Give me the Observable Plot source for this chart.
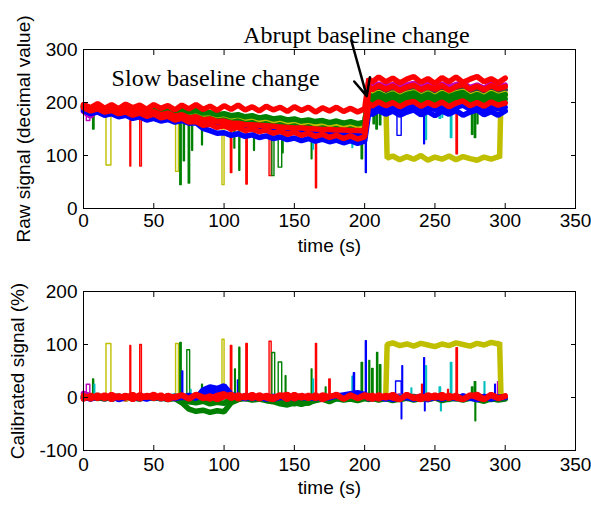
<!DOCTYPE html>
<html><head><meta charset="utf-8">
<script src="https://cdn.jsdelivr.net/npm/d3@7"></script>
<script src="https://cdn.jsdelivr.net/npm/@observablehq/plot@0.6"></script>
<style>
body{margin:0;background:#fff;}
#chart{width:591px;}
#chart svg{display:block;overflow:visible;}
</style></head><body><div id="chart"></div>
<script>
// ---------- time grids ----------
const timeA = [0,5,10,15,20,25,30,35,40,45,50,55,60,65,70,75,80,85,90,95,100,105,110,115,120,125,130,135,140,145,150,155,160,165,170,175,180,185,190,195,200];
const timeB = [203,205,210,215,220,225,230,235,240,245,250,255,260,265,270,275,280,285,290,295,300];
const yellowTimeB = [203,205,210,215,216,220,225,230,235,240,245,250,255,260,265,270,275,280,285,290,295,296,297,300];

// ---------- MATLAB colour order ----------
const colorCodes = ["b","g","r","c","m","y","k"];
const colorValues = ["#0000ff","#008000","#ff0000","#00bfbf","#bf00bf","#bfbf00","#404040"];

// ---------- raw signal (top) ----------
const rawR1A = [196,190,198,189,196,188,197,190,195,187,196,189,194,186,195,188,196,187,193,185,194,187,195,186,192,184,193,186,191,183,192,185,191,182,190,184,191,183,189,182,188];
const rawR1B = [245,238,248,239,246,237,244,249,238,245,236,247,239,248,238,244,249,239,245,237,246];
const rawR2A = [192,187,191,185,189,183,187,181,185,179,183,177,180,174,177,171,173,167,169,164,165,161,161,158,158,157,156,155,154,153,152,152,151,150,149,149,148,148,147,147,146];
const rawR2B = [230,224,232,225,231,223,229,233,224,230,225,232,223,230,234,225,231,224,232,226,230];
const rawR3A = [190,184,188,182,185,179,182,176,180,174,178,171,174,167,170,163,164,157,159,153,156,150,153,147,150,145,148,142,146,140,144,138,142,136,140,134,138,132,137,131,135];
const rawR3B = [199,193,201,194,200,192,199,202,193,200,194,201,192,199,203,194,200,193,201,195,199];
const rawB1A = [185,179,182,176,179,173,176,170,173,167,170,165,168,163,166,161,162,151,147,142,143,138,141,136,139,134,137,132,135,130,133,128,132,127,131,126,129,124,128,123,127];
const rawB1B = [183,177,185,178,184,176,182,186,177,183,175,184,178,185,176,182,186,177,183,176,184];
const rawB2A = [189,184,187,182,185,180,183,178,181,176,179,174,177,172,175,170,171,165,165,159,160,156,158,153,156,151,154,149,152,147,150,145,148,143,147,142,145,140,144,139,142];
const rawB2B = [191,186,193,187,192,185,191,194,186,192,187,193,185,191,195,187,192,186,193,188,191];
const rawG1A = [195,190,194,189,193,188,192,187,191,186,190,185,189,184,187,182,185,180,181,177,179,175,177,173,175,171,173,169,171,167,169,165,167,164,166,162,165,161,164,160,163];
const rawG1B = [215,210,217,211,216,209,215,218,210,216,209,217,211,216,219,210,215,209,217,211,215];
const rawG2A = [192,187,191,185,189,183,187,181,185,179,183,177,180,174,177,171,173,168,169,165,167,162,165,160,162,157,160,155,158,153,156,151,154,149,152,148,151,146,150,145,148];
const rawG2B = [207,202,209,203,208,201,207,210,202,208,201,209,203,208,211,202,207,201,209,203,207];
const rawY1A = [193,188,192,187,191,186,189,184,187,182,185,180,183,178,181,176,178,173,175,171,173,169,171,167,169,165,167,163,165,161,163,159,161,157,159,156,158,154,157,153,156];
const rawY1B = [217,211,217,212,95,99,92,98,93,100,91,97,93,99,92,98,94,91,97,93,98,95,212,214];
const rawY2A = [191,186,190,184,188,182,186,180,184,178,182,176,180,174,177,171,174,169,171,166,169,164,167,162,165,160,163,158,161,156,159,154,158,153,157,152,156,151,155,150,154];
const rawY2B = [217,213,219,212,218,211,217,220,212,218,211,219,213,218,221,212,217,211,219,213,217];
const rawKA = [193,188,192,187,190,185,189,184,187,182,185,180,183,178,181,176,178,174,176,172,174,170,172,168,170,166,168,164,166,162,164,161,163,159,162,158,161,157,160,156,159];
const rawKB = [224,219,226,220,225,218,224,227,219,225,218,226,220,225,228,219,224,218,226,220,224];
const rawCA = [188,183,187,181,185,179,183,177,181,175,179,173,176,170,173,167,169,164,165,160,162,157,159,155,157,152,155,150,153,148,151,146,149,144,147,142,145,140,144,139,142];
const rawCB = [201,196,203,197,202,195,201,204,196,202,195,203,197,202,205,196,201,195,203,197,201];
const rawMA = [183,174,187,182,185,180,184,178,181,176,179,174,177,172,175,170,172,167,169,164,167,162,165,160,163,158,161,156,159,154,157,152,155,151,154,149,152,148,151,147,150];
const rawMB = [233,228,235,229,234,227,233,236,228,234,227,235,229,234,237,228,233,227,235,229,233];

// spikes: [colour, start s, end s, base, extreme]
const rawSpikes = [
  ["m",2,4.5,185,166],["g",6.5,7.5,190,150],["y",16,19.5,188,82],["r",33,33.6,186,80],["r",40,41.2,184,80],
  ["y",65.5,67.5,175,70],["g",68.5,69.5,176,45],["g",71,71.8,175,90],["g",74.5,75.5,174,48],["g",77,77.6,172,110],
  ["g",84,84.6,170,120],["y",98.5,100,168,45],["r",104.5,105.5,165,68],["g",107,107.6,165,114],["g",110.5,111.2,163,72],
  ["r",115.5,116.5,160,46],["g",121,121.6,160,110],["r",132,133.5,152,62],["g",134,135.5,150,62],["g",138.5,141,150,78],
  ["g",141.5,142,150,105],["g",162,162.5,140,94],["c",163,163.5,140,112],["r",165,165.8,150,39],["c",191,191.5,140,115],
  ["g",197.5,198.5,148,94],["b",200.5,201.2,130,68],
  ["g",206,207,210,160],["g",208,209,208,150],["g",210.5,211.5,208,158],["r",215,216,200,125],["b",223,226,188,138],
  ["b",242,242.6,185,122],["c",243.5,244,195,130],["c",253,254,198,170],["c",255,255.5,198,172],["c",261,262,195,134],
  ["r",265,266,200,103],["g",276,277,205,140],["g",278,279,205,134],["g",280,280.6,205,160]
];

// ---------- calibrated signal (bottom) ----------
const calR1A = [4,-3,5,-2,6,-1,4,-4,5,0,6,-3,4,-1,5,-2,6,1,-3,4,7,-2,5,-1,6,-3,4,0,5,-4,6,-1,4,-2,5,1,6,-3,4,-1,5];
const calR1B = [3,-4,5,-1,6,-3,4,0,-4,5,-1,6,-2,4,-3,5,0,-4,6,-1,3];
const calR2A = [-3,4,-2,5,-4,3,-1,6,-3,4,-2,5,-4,2,4,-3,5,-2,3,-4,2,6,-3,4,-2,5,-1,-4,3,6,-3,4,-2,5,-4,2,4,-3,5,-2,3];
const calR2B = [-2,5,-3,4,-1,-4,6,-2,3,-3,5,-2,4,-1,-4,3,6,-3,4,-2,2];
const calB1A = [1,-3,2,-1,3,-4,0,2,-2,3,-1,1,-3,2,0,4,-2,14,20,17,22,6,2,-2,3,0,-3,2,1,-2,3,0,-1,2,-3,1,3,5,7,9,6];
const calB1B = [2,-2,1,-3,2,-1,0,-3,2,-4,1,-2,2,0,-3,1,-1,2,-3,1,0];
const calB2A = [-2,2,-1,3,-3,1,2,-2,0,-3,2,-1,3,-2,1,-1,3,8,12,9,13,2,-1,3,-2,1,2,-3,0,2,-2,3,0,-2,2,-1,4,2,5,3,4];
const calB2B = [-3,1,-2,2,-4,0,1,-3,2,-1,0,-3,1,-2,3,-1,-4,1,0,-2,1];
const calG1A = [-1,2,-2,1,-3,0,2,-1,-3,1,-2,0,-4,-2,-10,-22,-26,-24,-28,-25,-27,-10,-4,-2,-5,-3,-6,-8,-12,-14,-10,-13,-9,-6,-3,-8,-2,-5,-3,-6,-2];
const calG1B = [-4,-1,-5,-2,-6,-3,-1,-5,-2,-4,-1,-6,-3,-2,-5,-1,-4,-7,-2,-5,-3];
const calG2A = [2,-1,3,-2,1,-1,3,0,-2,2,-1,3,-2,1,-5,-8,-10,-7,-12,-9,-11,-3,1,-2,0,-3,-1,-4,-7,-9,-12,-8,-11,-4,-2,-1,2,-3,0,-2,1];
const calG2B = [1,-3,0,-2,2,-4,-1,1,-3,0,2,-2,-1,1,-3,0,-2,1,-4,0,1];
const calCA = [3,-2,4,-1,2,-3,1,3,-2,0,2,-3,1,3,-1,2,0,-3,2,-1,3,0,-2,2,4,-1,1,-3,2,0,3,-2,1,-1,2,0,-3,2,4,1,-2];
const calCB = [2,-1,3,0,-3,1,2,-2,0,3,-1,1,-4,2,0,-2,3,-1,1,-3,2];
const calMA = [8,3,-1,2,-2,1,-3,2,0,-1,2,-2,1,-1,3,0,-2,1,-1,2,0,-2,1,-1,2,0,-2,1,-1,2,0,-3,1,-1,2,0,-2,1,-1,2,0];
const calMB = [1,-2,2,-1,0,3,-2,1,-1,2,0,-3,1,-1,2,0,-2,1,3,-1,0];
const calYA = [1,-2,3,0,-1,2,-3,1,2,-1,0,3,-2,1,-1,2,0,-3,1,-2,2,0,-1,3,-2,1,0,-1,2,-3,1,0,2,-1,-2,1,0,3,-1,2,0];
const calYB = [2,-1,3,0,100,103,98,101,97,102,99,96,101,98,103,100,97,102,99,104,101,104,3,1];
const calKA = [-1,2,0,-3,1,3,-2,0,2,-1,3,-2,0,1,-3,2,-1,0,3,-2,1,-1,2,0,-3,1,2,-2,0,3,-1,1,-2,2,0,-3,1,2,-1,0,2];
const calKB = [0,-2,2,-1,1,-3,0,2,-2,1,3,-1,0,-2,2,1,-3,0,2,-1,0];

const calSpikes = [
  ["m",2,4.5,0,25],["g",6.5,7.2,0,35],["c",7.5,8,0,25],["y",16,19.5,0,102],["r",33,33.6,0,98],["r",40,41.2,0,100],
  ["y",65.5,67.5,0,102],["g",68.5,69.5,0,104],["b",70,70.6,0,50],["g",73.5,75.5,0,90],["c",76,76.5,0,15],["g",84,84.6,0,25],
  ["y",98.5,100,0,110],["r",104.5,105.5,0,98],["g",107.5,108,0,54],["b",109.5,110.5,0,33],["g",110.5,111.2,0,95],
  ["r",115.5,116.5,0,102],["r",132,133.5,0,106],["g",134,136,0,85],["g",138.5,141,0,67],["g",143.5,144,0,41],
  ["g",162,162.5,0,54],["c",163,163.5,0,35],["r",165,165.8,0,102],["g",172,172.5,0,20],["r",174.5,175.5,0,35],
  ["c",191,191.5,0,40],["b",192,192.8,0,47],["g",197.5,198.5,0,66],["b",200.5,201.2,0,107],["g",203,203.6,0,70],
  ["g",205,206,0,55],["g",208.5,209.3,0,85],["g",210.5,211.5,0,62],["r",215,216,0,91],["b",222,226,0,31],
  ["b",226.5,227,0,60],["b",226,226.4,0,-40],["c",233,233.5,0,18],["r",240.5,241,0,25],["b",242,242.6,0,75],
  ["b",242.6,243,0,-25],["c",243.5,244,0,60],["c",253,254,0,20],["c",254,254.5,0,-25],["r",259,259.6,0,15],
  ["c",261,262,0,66],["r",265,266,0,94],["g",276,277,0,20],["g",278,279,0,30],["g",278.5,279,0,-44],
  ["c",285,285.5,0,30],["b",292.5,293,0,25],["m",294.5,295.5,0,30]
];

// ---------- ticks / labels / annotations ----------
const xTicks = [0,50,100,150,200,250,300,350];
const rawTicks = [0,100,200,300];
const calTicks = [-100,0,100,200];
const xLabel = "time (s)";
const rawLabel = "Raw signal (decimal value)";
const calLabel = "Calibrated signal (%)";
const noteText = ["Abrupt baseline change","Slow baseline change"];
const noteTime = [113.6,20];
const noteValue = [327,246];
const arrowFrom = [190.5,317];
const arrowTo = [201.5,212];

// ---------- build tables ----------
const colorOf = code => colorValues[colorCodes.indexOf(code)];
function seriesRows(list) {
  const rows = [];
  list.forEach(([code, tb, a, b], i) => {
    const ts = timeA.concat(tb), vs = a.concat(b);
    ts.forEach((t, j) => rows.push({t, v: vs[j], id: i, c: colorOf(code)}));
  });
  return rows;
}
function spikeRows(list) {
  const rows = [];
  list.forEach(([code, t0, t1, base, ext], i) => {
    const c = colorOf(code);
    rows.push({t: t0, v: base, id: i, c}, {t: t0, v: ext, id: i, c}, {t: t1, v: ext, id: i, c}, {t: t1, v: base, id: i, c});
  });
  return rows;
}
const rawSeries = seriesRows([
  ["k",timeB,rawKA,rawKB],["m",timeB,rawMA,rawMB],["c",timeB,rawCA,rawCB],["y",timeB,rawY2A,rawY2B],
  ["y",yellowTimeB,rawY1A,rawY1B],["g",timeB,rawG2A,rawG2B],["g",timeB,rawG1A,rawG1B],
  ["b",timeB,rawB2A,rawB2B],["b",timeB,rawB1A,rawB1B],["r",timeB,rawR3A,rawR3B],["r",timeB,rawR2A,rawR2B],["r",timeB,rawR1A,rawR1B]
]);
const calSeries = seriesRows([
  ["k",timeB,calKA,calKB],["m",timeB,calMA,calMB],["c",timeB,calCA,calCB],["y",yellowTimeB,calYA,calYB],
  ["g",timeB,calG2A,calG2B],["g",timeB,calG1A,calG1B],["b",timeB,calB2A,calB2B],["b",timeB,calB1A,calB1B],
  ["r",timeB,calR2A,calR2B],["r",timeB,calR1A,calR1B]
]);

const fmt = d => String(d);
const font = "'Liberation Sans', Arial, sans-serif";
function axes(yTicks, yLabel, yLabelOffset, xPad) {
  return [
    Plot.frame({stroke: "#000", strokeWidth: 1}),
    Plot.axisX(xTicks, {anchor: "bottom", tickSize: -5, tickFormat: () => "", label: null}),
    Plot.axisX(xTicks, {anchor: "top", tickSize: -5, tickFormat: () => "", label: null}),
    Plot.axisY(yTicks, {anchor: "left", tickSize: -5, tickFormat: () => "", label: null}),
    Plot.axisY(yTicks, {anchor: "right", tickSize: -5, tickFormat: () => "", label: null}),
    Plot.axisX(xTicks, {anchor: "bottom", tickSize: 0, tickPadding: xPad, tickFormat: fmt, fontSize: 19, label: xLabel, labelAnchor: "center", labelOffset: 43, labelArrow: "none"}),
    Plot.axisY(yTicks, {anchor: "left", tickSize: 0, tickPadding: 6, tickFormat: fmt, fontSize: 19, label: yLabel, labelAnchor: "center", labelOffset: yLabelOffset, labelArrow: "none"})
  ];
}

const topPlot = Plot.plot({
  width: 591, height: 260,
  marginLeft: 83, marginRight: 16, marginTop: 49, marginBottom: 52,
  style: {fontFamily: font, fontSize: "20px", color: "#000", background: "#fff"},
  x: {domain: [0, 350]},
  y: {domain: [0, 300]},
  color: {type: "identity"},
  marks: [
    Plot.line(spikeRows(rawSpikes), {x: "t", y: "v", z: "id", stroke: "c", strokeWidth: 1.4}),
    Plot.line(rawSeries, {x: "t", y: "v", z: "id", stroke: "c", strokeWidth: 5.5, strokeLinejoin: "miter"}),
    ...axes(rawTicks, rawLabel, 67, 5),
    Plot.text(noteText, {x: (d, i) => noteTime[i], y: (d, i) => noteValue[i], text: d => d, textAnchor: "start", fontFamily: "'Liberation Serif', 'Times New Roman', serif", fontSize: 24, fill: "#000"}),
    Plot.arrow([0], {x1: () => arrowFrom[0], y1: () => arrowFrom[1], x2: () => arrowTo[0], y2: () => arrowTo[1], stroke: "#000", strokeWidth: 2.5, headLength: 16, headAngle: 50, bend: 0})
  ]
});

const bottomPlot = Plot.plot({
  width: 591, height: 246,
  marginLeft: 83, marginRight: 16, marginTop: 31, marginBottom: 56,
  style: {fontFamily: font, fontSize: "20px", color: "#000", background: "#fff"},
  x: {domain: [0, 350]},
  y: {domain: [-100, 200]},
  color: {type: "identity"},
  marks: [
    Plot.line(spikeRows(calSpikes), {x: "t", y: "v", z: "id", stroke: "c", strokeWidth: 1.4}),
    Plot.line(calSeries, {x: "t", y: "v", z: "id", stroke: "c", strokeWidth: 5.5, strokeLinejoin: "miter"}),
    ...axes(calTicks, calLabel, 73, 7)
  ]
});

document.getElementById("chart").append(topPlot, bottomPlot);
</script>
</body></html>
